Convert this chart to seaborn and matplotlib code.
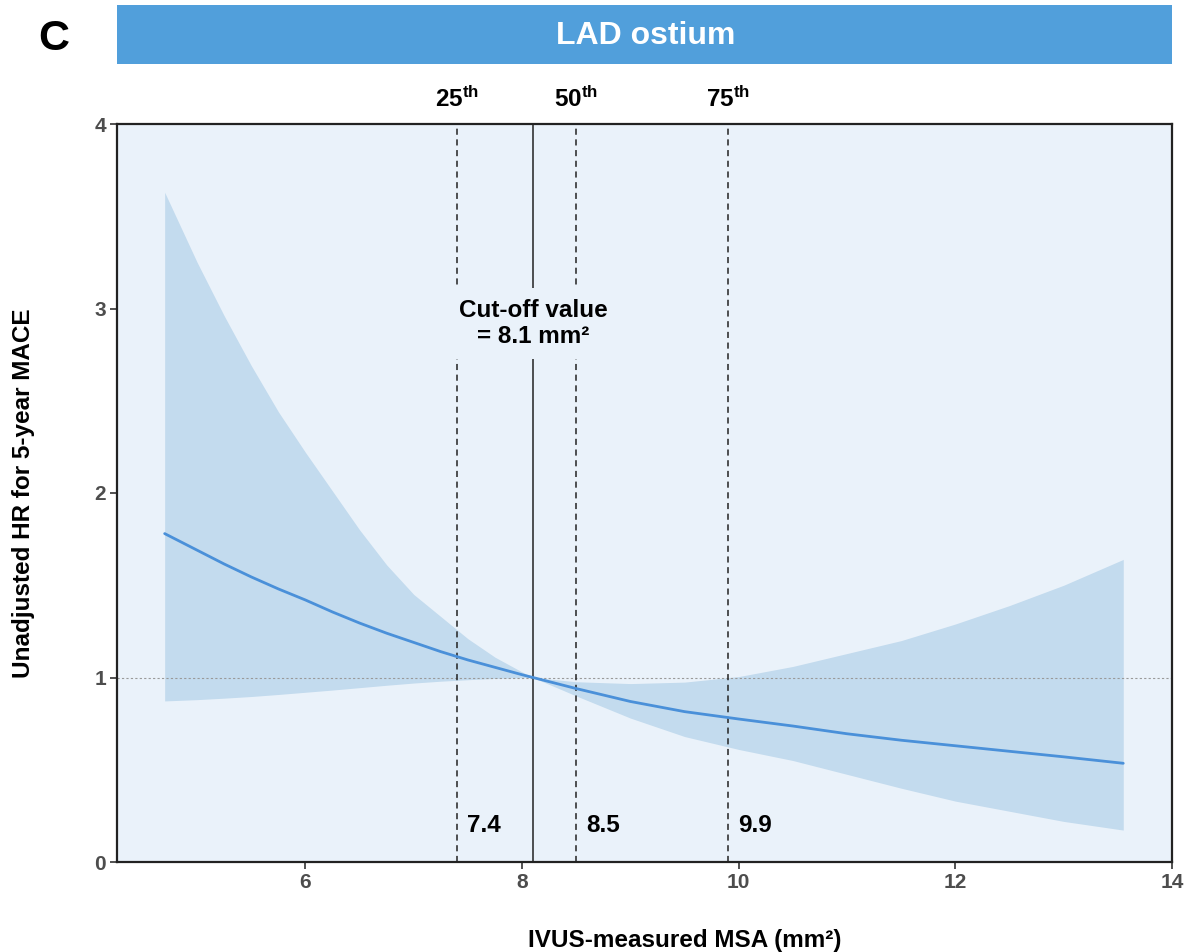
import numpy as np
import pandas as pd
import matplotlib
matplotlib.use("Agg")
import matplotlib.pyplot as plt
from matplotlib.patches import Rectangle
import seaborn as sns

# Hazard ratio curve for LAD ostium MSA (reference = cut-off value)
msa = [4.7, 5.0, 5.25, 5.5, 5.75, 6.0, 6.25, 6.5, 6.75, 7.0, 7.25, 7.5, 7.75, 8.0, 8.1,
       8.5, 9.0, 9.5, 10.0, 10.5, 11.0, 11.5, 12.0, 12.5, 13.0, 13.55]
hr = [1.78, 1.69, 1.615, 1.545, 1.48, 1.42, 1.355, 1.295, 1.24, 1.19, 1.14, 1.095,
      1.055, 1.015, 1.0,
      0.94, 0.87, 0.815, 0.775, 0.737, 0.695, 0.66, 0.63, 0.60, 0.57, 0.535]
hr_upper = [3.63, 3.25, 2.96, 2.69, 2.44, 2.22, 2.01, 1.80, 1.61, 1.45, 1.33, 1.21,
            1.11, 1.03, 1.0,
            0.977, 0.967, 0.975, 1.005, 1.06, 1.13, 1.20, 1.29, 1.39, 1.50, 1.64]
hr_lower = [0.873, 0.880, 0.888, 0.897, 0.908, 0.920, 0.932, 0.945, 0.958, 0.970, 0.980,
            0.988, 0.995, 0.999, 1.0,
            0.90, 0.78, 0.68, 0.61, 0.55, 0.475, 0.40, 0.33, 0.275, 0.22, 0.173]

cutoff = 8.1
percentile_names = ["25", "50", "75"]
percentile_values = [7.4, 8.5, 9.9]

x_ticks = [6, 8, 10, 12, 14]
y_ticks = [0, 1, 2, 3, 4]

df = pd.DataFrame({"msa": msa, "hr": hr, "lo": hr_lower, "hi": hr_upper})

sns.set_theme(style="white")
plt.rcParams["font.family"] = ["Liberation Sans", "DejaVu Sans"]
plt.rcParams["mathtext.fontset"] = "custom"
plt.rcParams["mathtext.rm"] = "Liberation Sans"
plt.rcParams["mathtext.bf"] = "Liberation Sans:bold"
plt.rcParams["text.color"] = "black"

bg = "#eaf2fa"
band = "#c3dbee"
line_col = "#4a90d9"
W, H = 1188, 952

fig = plt.figure(figsize=(W / 100, H / 100), dpi=100)
ax = fig.add_axes([117 / W, 90 / H, (1172 - 117) / W, (862 - 124) / H])
ax.set_facecolor(bg)

ax.fill_between(df["msa"], df["lo"], df["hi"], color=band, linewidth=0, zorder=1)
sns.lineplot(data=df, x="msa", y="hr", color=line_col, linewidth=2, ax=ax, zorder=3)

ax.axhline(1, color="#9a9a9a", linestyle=(0, (2, 2)), linewidth=0.8, zorder=2)
ax.axvline(cutoff, color="#222222", linewidth=1.1, zorder=2)
for v in percentile_values:
    ax.axvline(v, color="#222222", linestyle=(0, (4, 3)), linewidth=1.1, zorder=2)

ax.set_xlim(4.26, 14)
ax.set_ylim(0, 4)
ax.set_xticks(x_ticks)
ax.set_yticks(y_ticks)
ax.tick_params(axis="both", direction="out", length=5, width=1.2, color="#333333",
               labelsize=15, labelcolor="#4d4d4d", pad=3, bottom=True, left=True)
for lab in ax.get_xticklabels() + ax.get_yticklabels():
    lab.set_fontweight("bold")
for s in ax.spines.values():
    s.set_color("#222222")
    s.set_linewidth(1.6)
    s.set_visible(True)
ax.set_xlabel("")
ax.set_ylabel("")

# Axis titles
fig.text(685 / W, 1 - 947 / H, "IVUS-measured MSA (mm²)", ha="center", va="baseline",
         fontsize=17.5, fontweight="bold", color="black")
fig.text(24 / W, 1 - 493 / H, "Unadjusted HR for 5-year MACE", ha="center", va="center",
         rotation=90, fontsize=17.5, fontweight="bold", color="black")

# Cut-off annotation with a box that interrupts the vertical lines
ax.text(cutoff, 2.92, "Cut-off value\n= 8.1 mm²", ha="center", va="center",
        fontsize=17.5, fontweight="bold", color="black", linespacing=1.15, zorder=5,
        bbox=dict(boxstyle="square,pad=0.45", facecolor=bg, edgecolor="none"))

# Percentile headings and values
for name, v in zip(percentile_names, percentile_values):
    ax.text(v, 4.092, r"$\mathbf{" + name + r"^{th}}$", ha="center", va="baseline",
            fontsize=17.5, color="black")
    ax.text(v + 0.09, 0.2, f"{v:.1f}", ha="left", va="center",
            fontsize=17.5, fontweight="bold", color="black", zorder=5)

# Panel header bar
fig.patches.append(Rectangle((117 / W, 1 - 64 / H), (1172 - 117) / W, 59 / H,
                             transform=fig.transFigure, facecolor="#519fdb",
                             edgecolor="none"))
fig.text(646 / W, 1 - 36 / H, "LAD ostium", ha="center", va="center",
         color="white", fontsize=23, fontweight="bold")
fig.text(54 / W, 1 - 39 / H, "C", ha="center", va="center",
         color="black", fontsize=31, fontweight="bold")

fig.savefig("out.png", dpi=100, facecolor="white")
